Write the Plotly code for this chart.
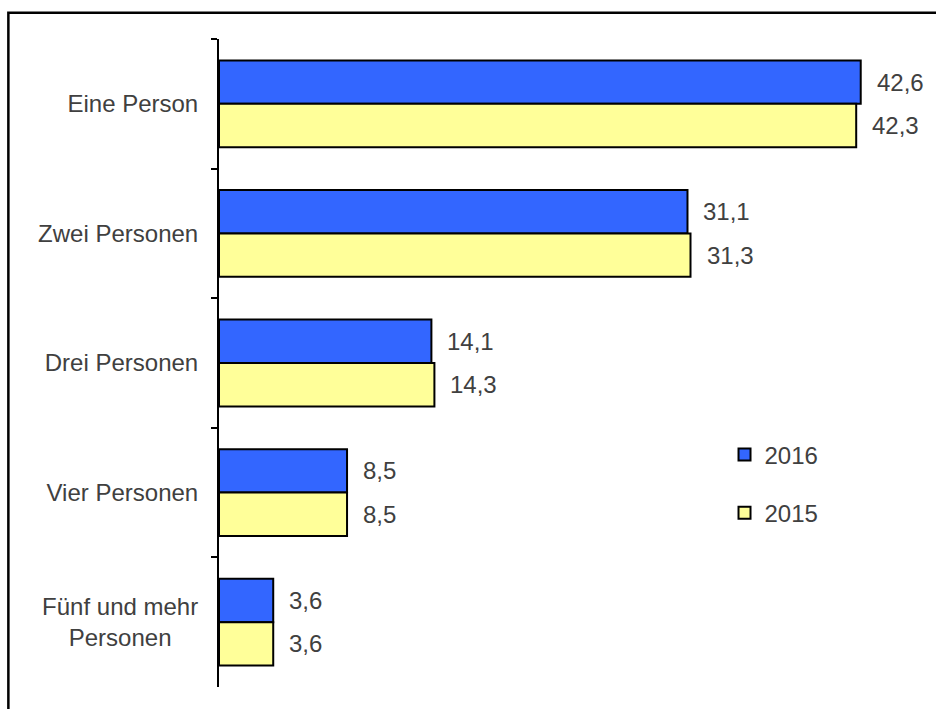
import plotly.graph_objects as go

categories = ["Eine Person", "Zwei Personen", "Drei Personen", "Vier Personen",
              "Fünf und mehr<br>Personen\u00a0\u00a0\u00a0\u00a0"]
values_2016 = [42.6, 31.1, 14.1, 8.5, 3.6]
values_2015 = [42.3, 31.3, 14.3, 8.5, 3.6]
series_names = ["2016", "2015"]
colors = ["#3366FF", "#FFFF99"]

FONT = dict(family="Arial, Liberation Sans, sans-serif", size=24, color="#404040")
BARGAP = 0.33

fig = go.Figure()
for name, vals, col in zip(series_names, [values_2016, values_2015], colors):
    fig.add_trace(go.Bar(
        y=categories, x=vals, orientation="h", name=name,
        legendgroup=name,
        marker=dict(color=col, line=dict(color="black", width=2)),
    ))

# value labels beside each bar end
bar_w = (1 - BARGAP) / 2
annotations = []
for k, vals in enumerate([values_2016, values_2015]):
    off = -bar_w / 2 if k == 0 else bar_w / 2
    for i, v in enumerate(vals):
        annotations.append(dict(
            x=v, y=i + off, xref="x", yref="y", text=f"{v:.1f}".replace(".", ","),
            showarrow=False, xanchor="left", yanchor="middle", xshift=14,
            font=FONT,
        ))

fig.update_layout(
    width=936, height=709,
    margin=dict(l=219, r=9, t=39, b=22),
    paper_bgcolor="white", plot_bgcolor="white",
    barmode="group", bargap=BARGAP, bargroupgap=0,
    font=FONT,
    annotations=annotations,
    showlegend=True,
    legend=dict(x=0.714, y=0.393, xanchor="left", yanchor="top",
                font=FONT, tracegroupgap=24, traceorder="grouped",
                bgcolor="rgba(0,0,0,0)"),
    xaxis=dict(range=[0, 47], showgrid=False, showticklabels=False, ticks="",
               zeroline=False, showline=False),
    yaxis=dict(type="category", categoryorder="array", categoryarray=categories,
               autorange="reversed", tickson="boundaries",
               showgrid=False, zeroline=False, showline=True, linecolor="black",
               linewidth=2, ticks="outside", ticklen=6, tickwidth=2,
               tickcolor="black", ticklabelstandoff=14),
    shapes=[dict(type="rect", xref="paper", yref="paper",
                 x0=-0.2975, x1=1.2, y0=-0.2, y1=1.0405,
                 line=dict(color="black", width=2.5), fillcolor="rgba(0,0,0,0)",
                 layer="above")],
)
fig.write_html("out.html", config={"displayModeBar": False},
               post_script="document.body.style.margin='0';")
